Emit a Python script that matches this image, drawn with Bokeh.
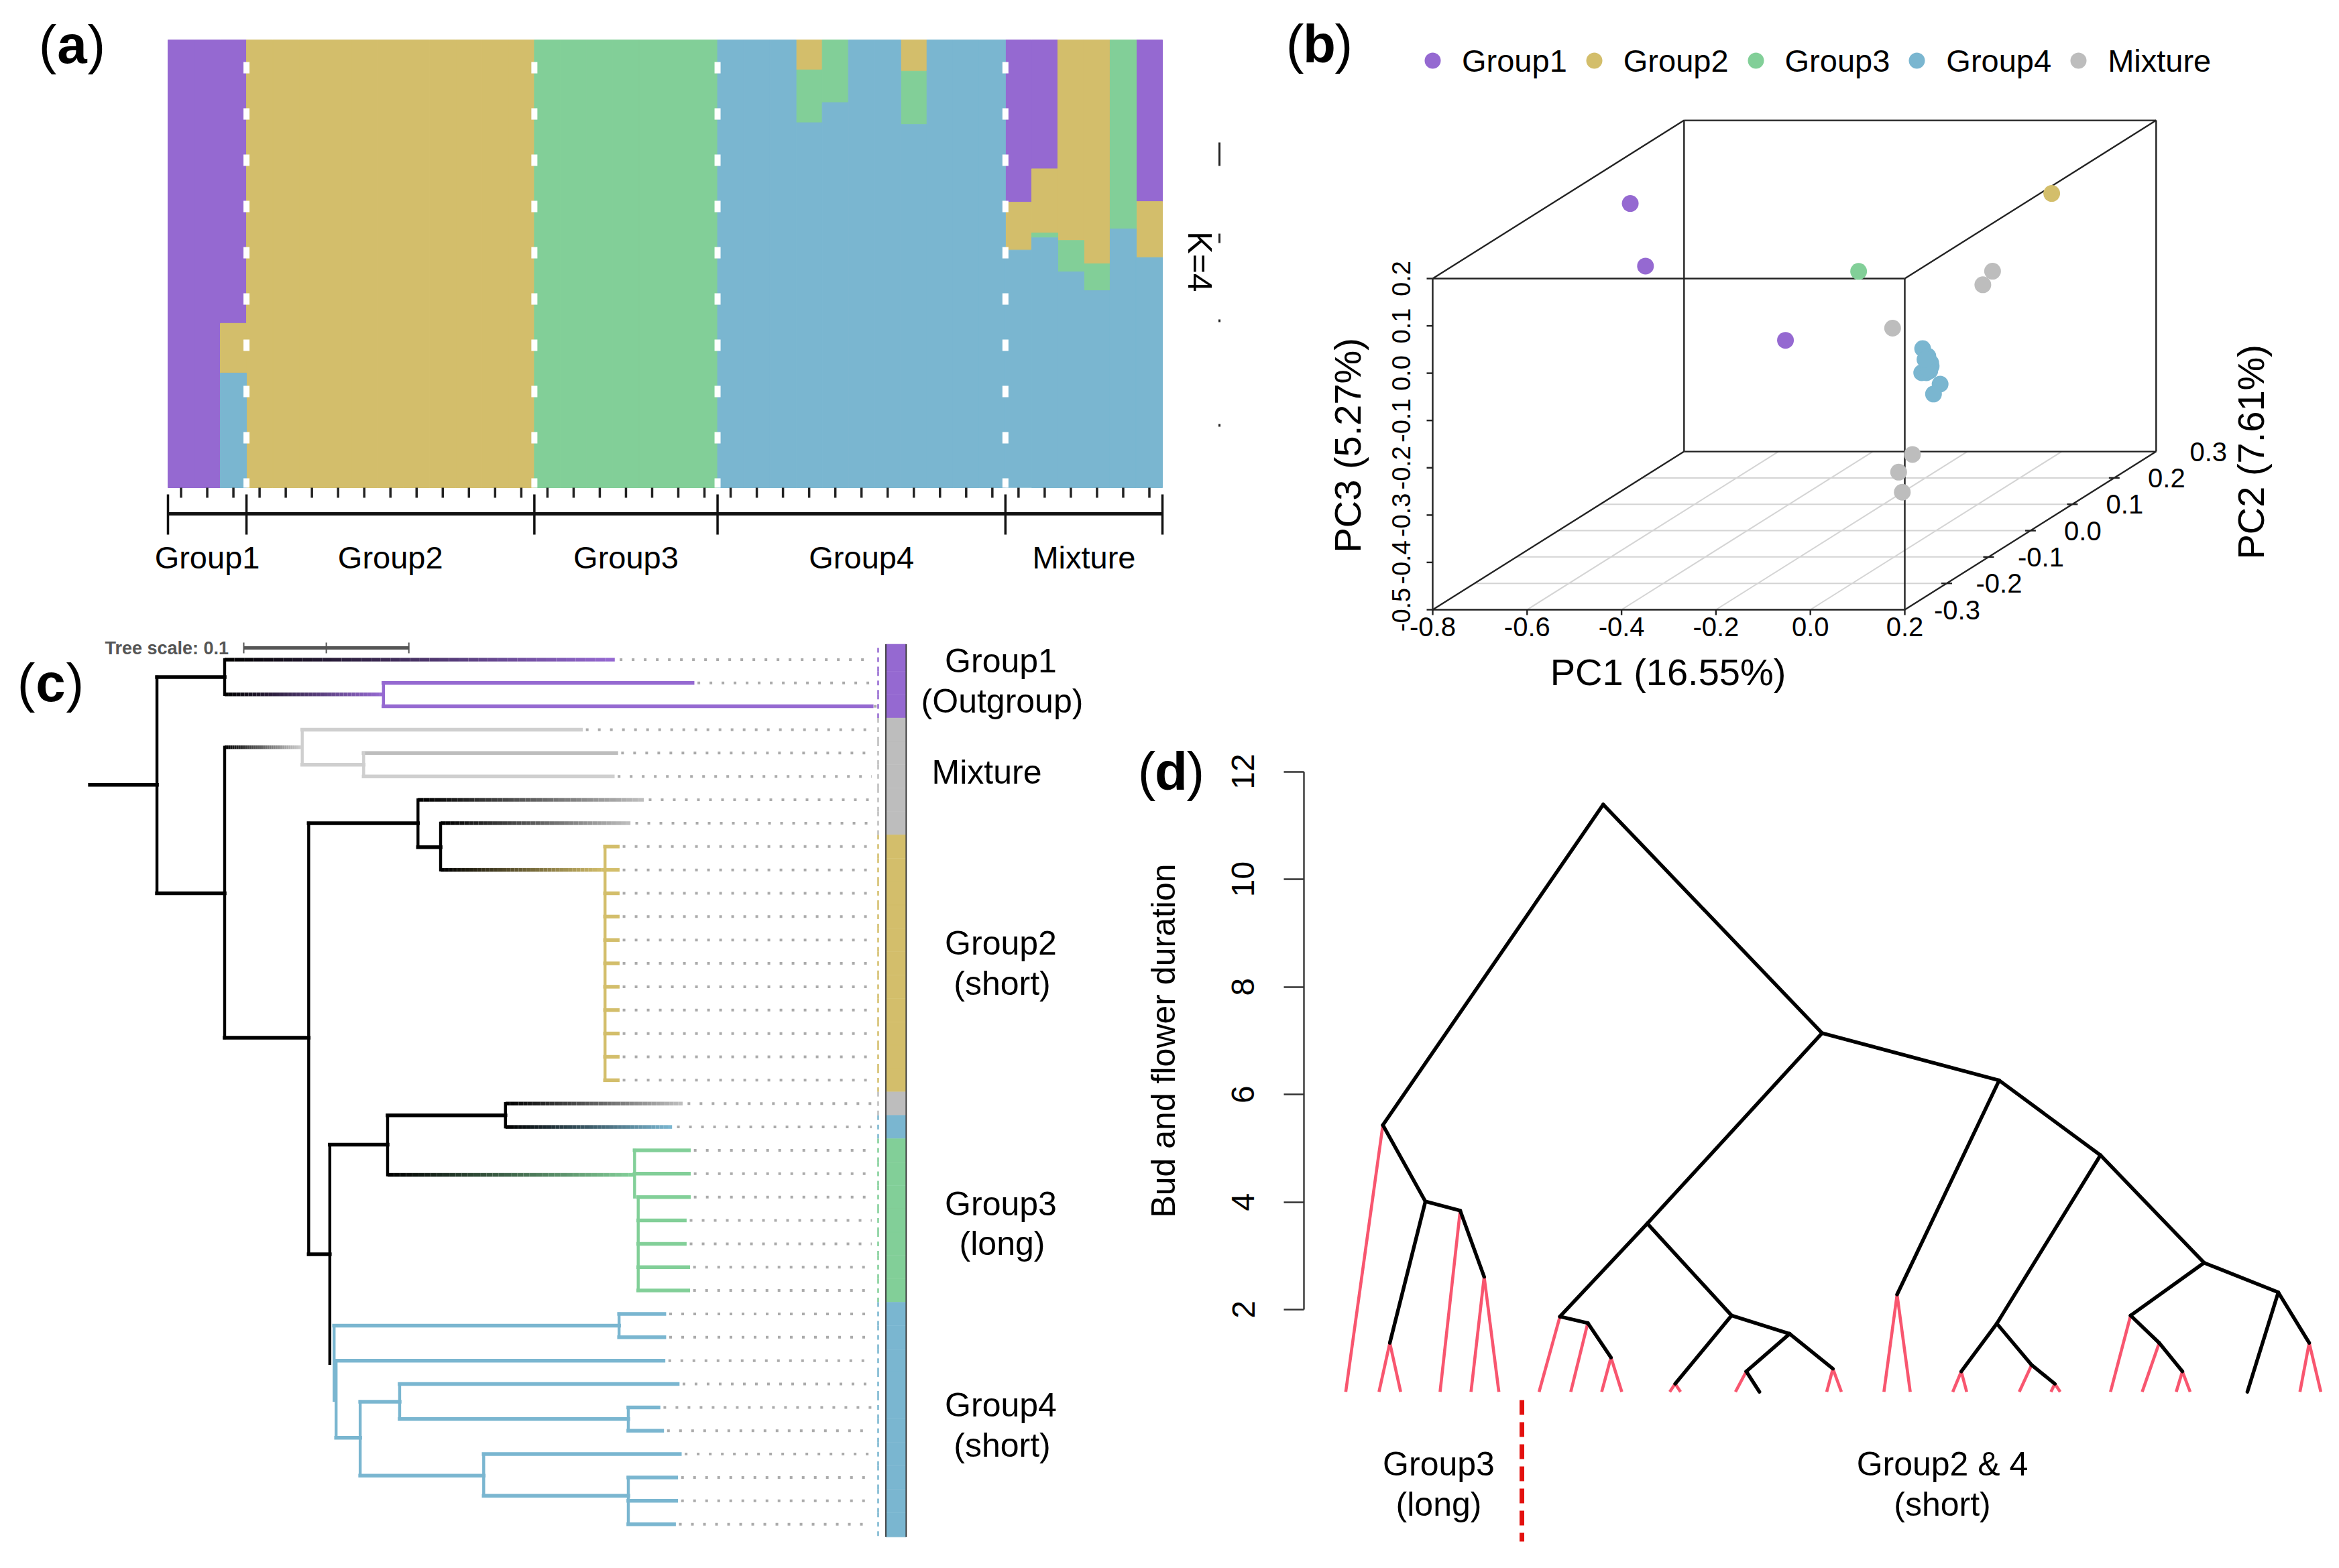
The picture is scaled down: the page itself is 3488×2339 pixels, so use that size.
import numpy as np
from bokeh.plotting import figure
from bokeh.layouts import column, row
from bokeh.models import Range1d, LinearAxis, FixedTicker, Legend, LegendItem
from bokeh.core.properties import value
from bokeh.embed import file_html
from bokeh.resources import INLINE

FONT = "Liberation Sans"
PURPLE, YELLOW, GREEN, BLUE, GRAY = "#9569D1", "#D3BE6B", "#82CF98", "#7AB6D0", "#BDBDBD"
LGRAY = "#CFCFCF"
PINK = "#F8566F"
COL = {"k": "#000000", "p": PURPLE, "y": YELLOW, "g": GREEN, "b": BLUE, "a": GRAY, "l": LGRAY}

# ---------- (a) admixture
group_names = ["Group1", "Group2", "Group3", "Group4", "Mixture"]
group_sizes = [3, 11, 7, 11, 6]
q_purple = [1, 1, .633] + [0] * 29 + [.3625, .288, 0, 0, 0, .361]
q_yellow = [0, 0, .111] + [1] * 11 + [0] * 7 + [0, 0, 0, .067, 0, 0, 0, .07, 0, 0, 0] + [.107, .143, .448, .5, 0, .125]
q_green = [0, 0, 0] + [0] * 11 + [1] * 7 + [0, 0, 0, .118, .14, 0, 0, .119, 0, 0, 0] + [0, .011, .07, .06, .422, 0]
q_blue = [0, 0, .256] + [0] * 11 + [0] * 7 + [1, 1, 1, .815, .86, 1, 1, .811, 1, 1, 1] + [.53, .558, .482, .44, .578, .514]

# ---------- (b) PCA
pca_groups = ["Group1", "Group2", "Group3", "Group4", "Mixture"]
pc1_g1, pc2_g1, pc3_g1 = [-.701, -.509, -.106], [.06, -.12, -.24], [.158, .126, .036]
pc1_g2, pc2_g2, pc3_g2 = [.032], [.24], [.079]
pc1_g3, pc2_g3, pc3_g3 = [-.164], [0.0], [.048]
pc1_g4 = [-.055, -.044, -.038, -.037, -.040, -.047, -.057, -.042, -.018, -.032, -.050]
pc2_g4 = [.03] * 11
pc3_g4 = [-.132, -.148, -.162, -.169, -.179, -.183, -.183, -.176, -.207, -.228, -.155]
pc1_mx = [-.040, -.034, -.092, -.050, -.026, .035]
pc2_mx = [.18, .15, 0.0, 0.0, -.06, -.12]
pc3_mx = [-.052, -.064, -.072, -.339, -.343, -.352]
pc1_ticks = [-.8, -.6, -.4, -.2, 0.0, .2]
pc2_ticks = [-.3, -.2, -.1, 0.0, .1, .2, .3]
pc3_ticks = [-.5, -.4, -.3, -.2, -.1, 0.0, .1, .2]

# ---------- (c) tree: horizontal branches (x0, x1, leaf-row, colour, fades from black)
tree_h = [
    (0, .0406, 5.36, "k", 0), (.0406, .0816, .75, "k", 0), (.0406, .0816, 10, "k", 0),
    (.0816, .3179, 0, "p", 1), (.0816, .1778, 1.49, "p", 1), (.1778, .3650, 1, "p", 0), (.1778, .4735, 2, "p", 0),
    (.0816, .1286, 3.75, "l", 1), (.1286, .2974, 3, "l", 0), (.1286, .1658, 4.5, "l", 0),
    (.1658, .3188, 4, "a", 0), (.1658, .3167, 5, "l", 0),
    (.0816, .1325, 16.18, "k", 0), (.1325, .1987, 7, "k", 0), (.1987, .3355, 6, "a", 1),
    (.1987, .2124, 8.03, "k", 0), (.2124, .3274, 7, "a", 1), (.2124, .3120, 9, "y", 1),
    (.3120, .3197, 8, "y", 0), (.3120, .3197, 9, "y", 0), (.3120, .3197, 10, "y", 0), (.3120, .3197, 11, "y", 0),
    (.3120, .3197, 12, "y", 0), (.3120, .3197, 13, "y", 0), (.3120, .3197, 14, "y", 0), (.3120, .3197, 15, "y", 0),
    (.3120, .3197, 16, "y", 0), (.3120, .3197, 17, "y", 0), (.3120, .3197, 18, "y", 0),
    (.1325, .1453, 25.45, "k", 0), (.1453, .1803, 20.76, "k", 0), (.1803, .2517, 19.5, "k", 0),
    (.2517, .3590, 19, "a", 1), (.2517, .3526, 20, "b", 1), (.1803, .3299, 22.05, "g", 1),
    (.3299, .3628, 21, "g", 0), (.3299, .3628, 22, "g", 0), (.3321, .3628, 23, "g", 0), (.3321, .3603, 24, "g", 0),
    (.3321, .3603, 25, "g", 0), (.3321, .3624, 26, "g", 0), (.3321, .3624, 27, "g", 0),
    (.1479, .3205, 28.5, "b", 0), (.3205, .3479, 28, "b", 0), (.3205, .3479, 29, "b", 0),
    (.1487, .3474, 30, "b", 0), (.1491, .1637, 33.3, "b", 0), (.1637, .1876, 31.76, "b", 0),
    (.1876, .3560, 31, "b", 0), (.1876, .3261, 32.5, "b", 0), (.3261, .3444, 32, "b", 0), (.3261, .3466, 33, "b", 0),
    (.1637, .2385, 34.92, "b", 0), (.2385, .3573, 34, "b", 0), (.2385, .3261, 35.78, "b", 0),
    (.3261, .3551, 35, "b", 0), (.3261, .3551, 36, "b", 0), (.3261, .3538, 37, "b", 0),
]
tree_v = [
    (.0406, .75, 10, "k"), (.0816, 0, 1.49, "k"), (.0816, 3.75, 16.18, "k"), (.1778, 1, 2, "p"),
    (.1286, 3, 4.5, "l"), (.1658, 4, 5, "l"), (.1325, 7, 25.45, "k"), (.1987, 6, 8.03, "k"),
    (.2124, 7, 9, "k"), (.3120, 8, 18, "y"), (.1453, 20.76, 30.12, "k"), (.1803, 19.5, 22.05, "k"),
    (.2517, 19, 20, "k"), (.3299, 21, 23, "g"), (.3321, 23, 27, "g"), (.1479, 28.5, 31.7, "b"),
    (.1491, 30, 33.3, "b"), (.1637, 31.76, 34.92, "b"), (.1876, 31, 32.5, "b"), (.3261, 32, 33, "b"),
    (.2385, 34, 35.78, "b"), (.3261, 35, 37, "b"), (.3205, 28, 29, "b"),
]
leaf_tip = [.3179, .3650, .4735, .2974, .3188, .3167, .3355, .3274] + [.3197] * 11 + \
           [.3590, .3526, .3628, .3628, .3628, .3603, .3603, .3624, .3624, .3479, .3479, .3474,
            .3560, .3444, .3466, .3573, .3551, .3551, .3538]
leaf_group = list("ppp" + "aaaaa" + "yyyyyyyyyyy" + "a" + "b" + "ggggggg" + "bbbbbbbbbb")
tree_labels = ["Group1", "(Outgroup)", "Mixture", "Group2", "(short)", "Group3", "(long)", "Group4", "(short)"]

# ---------- (d) duration on the tree: x0, y0, x1, y1
trait_black = [(616, 11.39, 331, 5.43), (616, 11.39, 899, 7.14), (331, 5.43, 386, 4.01), (386, 4.01, 340, 1.38),
               (386, 4.01, 431, 3.84), (431, 3.84, 462, 2.61), (899, 7.14, 673, 3.60), (673, 3.60, 560, 1.87),
               (560, 1.87, 596, 1.75), (596, 1.75, 626, 1.11), (673, 3.60, 782, 1.89), (782, 1.89, 709, .62),
               (782, 1.89, 857, 1.55), (857, 1.55, 801, .85), (801, .85, 818, .47), (857, 1.55, 913, .90),
               (899, 7.14, 1128, 6.26), (1128, 6.26, 996, 2.28), (1128, 6.26, 1259, 4.87), (1259, 4.87, 1125, 1.74),
               (1125, 1.74, 1079, .85), (1125, 1.74, 1170, .97), (1170, .97, 1200, .62), (1259, 4.87, 1393, 2.87),
               (1393, 2.87, 1298, 1.89), (1298, 1.89, 1335, 1.38), (1335, 1.38, 1365, .85), (1393, 2.87, 1489, 2.32),
               (1489, 2.32, 1449, .47), (1489, 2.32, 1529, 1.38)]
trait_pink = [(331, 5.43, 283, .47), (340, 1.38, 326, .47), (340, 1.38, 354, .47), (431, 3.84, 405, .47),
              (462, 2.61, 445, .47), (462, 2.61, 481, .47), (560, 1.87, 533, .47), (596, 1.75, 574, .47),
              (626, 1.11, 614, .47), (626, 1.11, 640, .47), (709, .62, 702, .47), (709, .62, 716, .47),
              (801, .85, 787, .47), (913, .90, 905, .47), (913, .90, 924, .47), (996, 2.28, 979, .47),
              (996, 2.28, 1013, .47), (1079, .85, 1068, .47), (1079, .85, 1086, .47), (1170, .97, 1154, .47),
              (1200, .62, 1195, .47), (1200, .62, 1207, .47), (1298, 1.89, 1272, .47), (1335, 1.38, 1313, .47),
              (1365, .85, 1357, .47), (1365, .85, 1375, .47), (1529, 1.38, 1517, .47), (1529, 1.38, 1544, .47)]
duration_ticks = [2, 4, 6, 8, 10, 12]

SPLIT_X = 1825
SPLIT_Y_L = 930
SPLIT_Y_R = 1060
TOTAL_W, TOTAL_H = 3480, 2335


def panel(ox, oy, w, h, xa, pxa, xb, pxb, ya, pya, yb, pyb):
    sx = (xb - xa) / (pxb - pxa)
    sy = (yb - ya) / (pyb - pya)
    X = lambda px: xa + (px - pxa) * sx
    Y = lambda py: ya + (py - pya) * sy
    f = figure(width=w, height=h, x_range=Range1d(X(ox), X(ox + w)), y_range=Range1d(Y(oy + h), Y(oy)),
               output_backend="svg", toolbar_location=None, min_border=0,
               outline_line_color=None, x_axis_location=None, y_axis_location=None)
    f.grid.visible = False
    f.background_fill_color = "white"
    return f, X, Y


def T(p, x, y, text, size=46, color="black", angle=0.0, align="center", baseline="middle", style="normal"):
    p.text(x=[x], y=[y], text=[text], text_font=value(FONT), text_font_size=f"{size}px", text_color=color,
           angle=angle, text_align=align, text_baseline=baseline, text_font_style=style)


def tag(p, X, Y, cx, cy, letter):
    T(p, X(cx - 23), Y(cy), "(", 80, align="right")
    T(p, X(cx), Y(cy), letter, 80, style="bold")
    T(p, X(cx + 23), Y(cy), ")", 80, align="left")


HALF = np.pi / 2

# ===== panel a
pa, Xa, Ya = panel(0, 0, SPLIT_X, SPLIT_Y_L, 0, 250, 38, 1733, 1, 59, 0, 727)
centers = np.arange(38) + .5
edge = np.zeros(38)
for q, c in zip([q_purple, q_yellow, q_green, q_blue], [PURPLE, YELLOW, GREEN, BLUE]):
    q = np.array(q, float)
    m = q > 0
    pa.vbar(x=centers[m], width=1, top=(1 - edge)[m], bottom=(1 - edge - q)[m], fill_color=c, line_color=c,
            line_width=1)
    edge = edge + q
bounds = np.cumsum([0] + group_sizes)
inner = bounds[1:-1]
pa.segment(x0=inner, x1=inner, y0=[1] * 4, y1=[0] * 4, line_color="white", line_width=9,
           line_dash="17 52", line_dash_offset=36)
pa.segment(x0=centers, x1=centers, y0=[0] * 38, y1=[Ya(742)] * 38, line_color="#222222", line_width=3.5)
pa.segment(x0=[0], x1=[38], y0=[Ya(766)], y1=[Ya(766)], line_color="#111111", line_width=5)
pa.segment(x0=bounds, x1=bounds, y0=[Ya(737)] * 6, y1=[Ya(797)] * 6, line_color="#111111", line_width=3.5)
for n, b0, b1 in zip(group_names, bounds[:-1], bounds[1:]):
    T(pa, (b0 + b1) / 2, Ya(831), n, 47)
T(pa, Xa(1788), Ya(390), "K=4", 50, angle=-HALF)
pa.segment(x0=[Xa(1818)] * 4, x1=[Xa(1818)] * 4, y0=[Ya(v) for v in (212, 348, 476, 632)],
           y1=[Ya(v) for v in (247, 362, 480, 636)], line_color="#222222", line_width=3)
tag(pa, Xa, Ya, 107, 66, "a")

# ===== panel b
pb, Xb, Yb = panel(SPLIT_X, 0, TOTAL_W - SPLIT_X, SPLIT_Y_R, -.8, 2136, .2, 2840, -.5, 909, .2, 415)


def proj(pc1, pc2, pc3):
    d = (np.asarray(pc2, float) + .3) / .6
    return np.asarray(pc1, float) + .5324 * d, np.asarray(pc3, float) + .3343 * d


def seg3(p, a, b, **kw):
    x0, y0 = proj(*a)
    x1, y1 = proj(*b)
    p.segment(x0=[x0], y0=[y0], x1=[x1], y1=[y1], **kw)


for v in pc1_ticks[1:-1]:
    seg3(pb, (v, -.3, -.5), (v, .3, -.5), line_color="#D4D4D4", line_width=2)
for v in pc2_ticks[1:-1]:
    seg3(pb, (-.8, v, -.5), (.2, v, -.5), line_color="#D4D4D4", line_width=2)
box = dict(line_color="#222222", line_width=2.4)
for a, b in [((-.8, .3, .2), (.2, .3, .2)), ((.2, .3, .2), (.2, .3, -.5)), ((.2, .3, -.5), (-.8, .3, -.5)),
             ((-.8, .3, -.5), (-.8, .3, .2)),
             ((-.8, -.3, .2), (.2, -.3, .2)), ((.2, -.3, .2), (.2, -.3, -.5)), ((.2, -.3, -.5), (-.8, -.3, -.5)),
             ((-.8, -.3, -.5), (-.8, -.3, .2)),
             ((-.8, -.3, .2), (-.8, .3, .2)), ((.2, -.3, .2), (.2, .3, .2)),
             ((.2, -.3, -.5), (.2, .3, -.5)), ((-.8, -.3, -.5), (-.8, .3, -.5))]:
    seg3(pb, a, b, **box)
dx, dy = 1 / 704, .7 / 494  # data units per pixel in this panel
for v in pc1_ticks:
    pb.segment(x0=[v], x1=[v], y0=[-.5], y1=[-.5 - 8 * dy], **box)
    T(pb, v, Yb(934), f"{v:.1f}", 40)
for v in pc3_ticks:
    pb.segment(x0=[-.8], x1=[-.8 - 9 * dx], y0=[v], y1=[v], **box)
    T(pb, Xb(2089), v, f"{v:.1f}", 38, angle=HALF)
for v in pc2_ticks:
    x, y = proj(.2, v, -.5)
    if -.3 < v < .3:
        pb.segment(x0=[x - 8 * dx], x1=[x + 8 * dx], y0=[y], y1=[y], **box)
    T(pb, float(x) + 78 * dx, y, f"{v:.1f}", 40)
items = []
for name, c, a1, a2, a3 in zip(pca_groups, [PURPLE, YELLOW, GREEN, BLUE, GRAY],
                               [pc1_g1, pc1_g2, pc1_g3, pc1_g4, pc1_mx],
                               [pc2_g1, pc2_g2, pc2_g3, pc2_g4, pc2_mx],
                               [pc3_g1, pc3_g2, pc3_g3, pc3_g4, pc3_mx]):
    x, y = proj(a1, a2, a3)
    r = pb.scatter(x=x, y=y, size=25, fill_color=c, line_color=None)
    items.append(LegendItem(label=name, renderers=[r]))
leg = Legend(items=items, orientation="horizontal", location=(2136 - 30 - SPLIT_X, SPLIT_Y_R - 120),
             glyph_width=60, glyph_height=60,
             label_standoff=14, spacing=10, padding=0, margin=0, border_line_color=None, background_fill_alpha=0,
             label_text_font=FONT, label_text_font_size="47px", label_text_color="black",
             label_height=60, label_text_baseline="middle")
pb.add_layout(leg, "center")
T(pb, Xb(2009), Yb(656), "PC3  (5.27%)", 56, angle=HALF)
T(pb, Xb(3356), Yb(666), "PC2  (7.61%)", 56, angle=HALF)
T(pb, Xb(2487), Yb(1002), "PC1 (16.55%)", 56)
tag(pb, Xb, Yb, 1967, 65, "b")

# ===== panel c (also carries the parts of panel d that lie left of the column split)
pc, Xc, Yc = panel(0, SPLIT_Y_L, SPLIT_X, TOTAL_H - SPLIT_Y_L, 0, 133.6, .1, 379.8, 0, 983.4, 37, 2273.2)
N = 40
for x0, x1, y, c, fade in tree_h:
    if fade:
        xs = np.linspace(x0, x1, N + 1)
        end = np.array([int(COL[c][i:i + 2], 16) for i in (1, 3, 5)])
        cols = ["#%02x%02x%02x" % tuple((end * (i / (N - 1))).astype(int)) for i in range(N)]
        pc.segment(x0=xs[:-1], x1=xs[1:], y0=[y] * N, y1=[y] * N, line_color=cols, line_width=5.5)
    else:
        pc.segment(x0=[x0], x1=[x1], y0=[y], y1=[y], line_color=COL[c], line_width=5.5, line_cap="square")
for x, y0, y1, c in tree_v:
    pc.segment(x0=[x], x1=[x], y0=[y0], y1=[y1], line_color=COL[c], line_width=4.4, line_cap="square")
rows = np.arange(38)
tips = np.array(leaf_tip)
pc.segment(x0=tips + .003, x1=[.4735] * 38, y0=rows, y1=rows, line_color="#ABABAB", line_width=4, line_dash="4 14")
leaf_cols = [COL[g] for g in leaf_group]
pc.segment(x0=[.4774] * 38, x1=[.4774] * 38, y0=rows - .5, y1=rows + .5, line_color=leaf_cols, line_width=2.5,
           line_dash="7 7")
top = (rows - .5).astype(float)
bot = (rows + .5).astype(float)
top[0] = -.66
bot[-1] = 37.55
pc.quad(left=[.4821] * 38, right=[.4944] * 38, top=top, bottom=bot, fill_color=leaf_cols, line_color=leaf_cols,
        line_width=.5)
pc.segment(x0=[.4821, .4944], x1=[.4821, .4944], y0=[-.66] * 2, y1=[37.55] * 2, line_color="#333333", line_width=1.8)
for t, px, py in zip(tree_labels, [1492, 1494, 1471, 1492, 1494, 1492, 1494, 1492, 1494],
                     [985, 1045, 1151, 1406, 1466, 1795, 1854, 2095, 2155]):
    T(pc, Xc(px), Yc(py), t, 50)
T(pc, Xc(156), Yc(966), "Tree scale: 0.1", 27, color="#555555", align="left", style="bold")
bx = Xc(363)
pc.segment(x0=[bx], x1=[bx + .1], y0=[Yc(966)], y1=[Yc(966)], line_color="#555555", line_width=5)
pc.segment(x0=[bx, bx + .05, bx + .1], x1=[bx, bx + .05, bx + .1], y0=[Yc(958)] * 3, y1=[Yc(974)] * 3,
           line_color="#555555", line_width=2)
tag(pc, Xc, Yc, 75, 1018, "c")
T(pc, Xc(1734), Yc(1552), "Bud and flower duration", 50, angle=HALF)
tag(pc, Xc, Yc, 1746, 1150, "d")

# ===== panel d
pd, Xd, Yd = panel(SPLIT_X, SPLIT_Y_R, TOTAL_W - SPLIT_X, TOTAL_H - SPLIT_Y_R, 0, 1680, 1561, 3480, 2, 1953, 12, 1150.6)
blk = np.array(trait_black, float)
pnk = np.array(trait_pink, float)
pd.segment(x0=pnk[:, 0], y0=pnk[:, 1], x1=pnk[:, 2], y1=pnk[:, 3], line_color=PINK, line_width=4.6)
pd.segment(x0=blk[:, 0], y0=blk[:, 1], x1=blk[:, 2], y1=blk[:, 3], line_color="black", line_width=5.4, line_cap="round")
ax = LinearAxis(ticker=FixedTicker(ticks=duration_ticks), bounds=(2, 12), fixed_location=Xd(1944),
                major_label_text_font=FONT, major_label_text_font_size="48px", major_label_text_color="black",
                major_label_orientation="vertical", major_label_standoff=44, major_tick_out=30, major_tick_in=0,
                minor_tick_out=0, minor_tick_in=0, axis_line_width=2.4, major_tick_line_width=2.4,
                axis_line_color="#333333", major_tick_line_color="#333333")
pd.add_layout(ax, "left")
rx = Xd(2269)
pd.segment(x0=[rx], x1=[rx], y0=[Yd(2088)], y1=[Yd(2299)], line_color="#E3110F", line_width=7, line_dash="22 11")
for t, px, py in [("Group3", 2145, 2183), ("(long)", 2145, 2243), ("Group2 & 4", 2896, 2183), ("(short)", 2896, 2243)]:
    T(pd, Xd(px), Yd(py), t, 50)

layout = row(column(pa, pc, spacing=0), column(pb, pd, spacing=0), spacing=0)
open("out.html", "w").write(file_html(layout, INLINE))
